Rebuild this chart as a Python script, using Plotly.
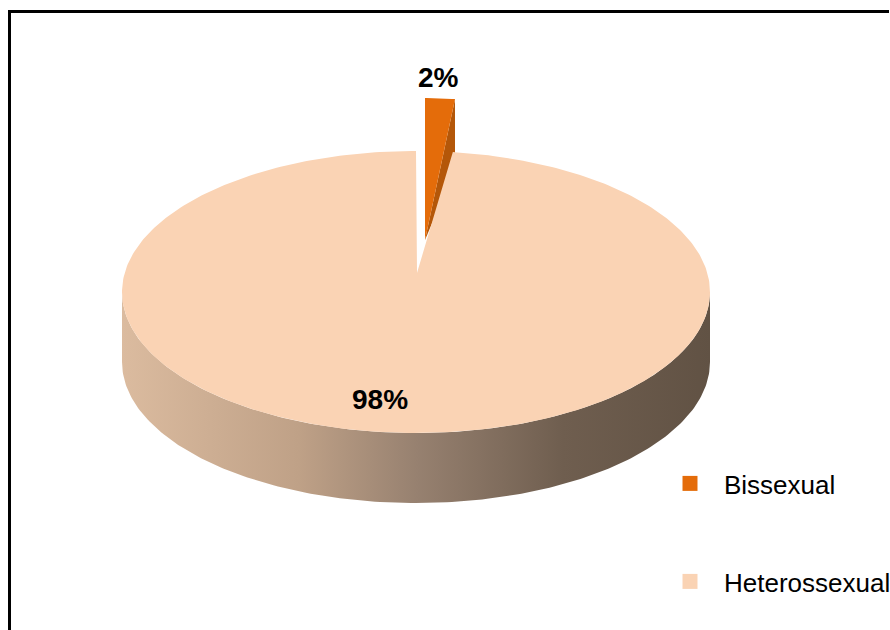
import numpy as np
import plotly.graph_objects as go

# Orientação sexual dos participantes (%)
labels = ["Bissexual", "Heterossexual"]
values = [2, 98]
top_colors = ["#E46C0A", "#FAD3B4"]
cut_color = "#B45709"
wall_colors = [[0.0, "#DBBB9F"], [0.3, "#BFA187"], [0.5, "#978170"],
               [0.75, "#6F5E4F"], [1.0, "#615244"]]

# Pixel-based frame for the pseudo-3D pie
W, H = 890, 630
cx, cy, rx, ry = 416, 292, 294, 141   # top ellipse
apex = np.array([417.0, 273.0])        # apparent pie centre (perspective)
depth = 70                             # thickness of the pie wall
arc_shift = np.array([9.0, -53.0])     # pulled-out slice: rim offset
apex_shift = np.array([8.0, -33.0])    # pulled-out slice: centre offset
far_scale = 0.815                      # horizontal foreshortening of the pulled slice


def rim(theta_deg, dy=0.0, sx=1.0):
    t = np.radians(theta_deg)
    return np.column_stack([cx + sx * rx * np.sin(t), cy - ry * np.cos(t) + dy])


# slice angles (clockwise from 12 o'clock) derived from the values
total = sum(values)
bounds = np.concatenate([[0], np.cumsum(values) / total * 360.0])

fig = go.Figure()
noline = dict(width=0)

# --- pulled-out slice (first value) ---
a0, a1 = bounds[0], bounds[1]
ap_o = apex + apex_shift
arc_o = rim(np.linspace(a0, a1, 20), sx=far_scale) + arc_shift
end_o = arc_o[-1]
# radial cut face, seen below its right edge
cut = np.array([ap_o, end_o, end_o + [0, depth], ap_o])
fig.add_trace(go.Scatter(x=cut[:, 0], y=cut[:, 1], fill="toself", mode="lines",
                         line=noline, fillcolor=cut_color, hoverinfo="skip",
                         showlegend=False))
poly_o = np.vstack([ap_o, arc_o, ap_o])
fig.add_trace(go.Scatter(x=poly_o[:, 0], y=poly_o[:, 1], fill="toself", mode="lines",
                         line=noline, fillcolor=top_colors[0], hoverinfo="skip",
                         showlegend=False))

# --- main slice: outer wall (front half) with horizontal shading ---
front = np.linspace(90, 270, 181)
wall = np.vstack([rim(front), rim(front[::-1], depth)])
wall = np.vstack([wall, wall[:1]])
fig.add_trace(go.Scatter(x=wall[:, 0], y=wall[:, 1], fill="toself", mode="lines",
                         line=noline,
                         fillgradient=dict(type="horizontal", colorscale=wall_colors),
                         hoverinfo="skip", showlegend=False))

# --- main slice: top face ---
b0, b1 = bounds[1], bounds[2]
arc_m = rim(np.linspace(b0, b1, 400))
poly_m = np.vstack([apex, arc_m, apex])
fig.add_trace(go.Scatter(x=poly_m[:, 0], y=poly_m[:, 1], fill="toself", mode="lines",
                         line=noline, fillcolor=top_colors[1], hoverinfo="skip",
                         showlegend=False))

# --- legend entries (one legend box per category) ---
for i, (name, col) in enumerate(zip(labels, top_colors)):
    fig.add_trace(go.Scatter(x=[None], y=[None], mode="markers", name=name,
                             marker=dict(symbol="square", size=15, color=col),
                             legend="legend" if i == 0 else f"legend{i + 1}"))

# --- percentage labels ---
label_pos = [(438, 77), (380, 399)]
for v, (lx, ly) in zip(values, label_pos):
    fig.add_annotation(x=lx, y=ly, text=f"<b>{v}%</b>", showarrow=False,
                       font=dict(family="Liberation Sans, Arial", size=28, color="#000000"),
                       xanchor="center", yanchor="middle")

# chart frame: only the top and left borders fall inside the view
frame = dict(color="#000000", width=3)
fig.add_shape(type="line", x0=8, y0=11.5, x1=889, y1=11.5, line=frame, layer="above")
fig.add_shape(type="line", x0=9.5, y0=10, x1=9.5, y1=H, line=frame, layer="above")

legend_style = dict(font=dict(family="Liberation Sans, Arial", size=26, color="#000000"),
                    bgcolor="rgba(0,0,0,0)", xanchor="left", yanchor="middle",
                    itemsizing="trace", itemwidth=58)
fig.update_layout(
    width=W, height=H,
    margin=dict(l=0, r=0, t=0, b=0, autoexpand=False),
    paper_bgcolor="#FFFFFF", plot_bgcolor="#FFFFFF",
    xaxis=dict(range=[0, W], visible=False, fixedrange=True),
    yaxis=dict(range=[H, 0], visible=False, fixedrange=True),
    legend=dict(x=656 / W, y=1 - 483.5 / H, **legend_style),
    legend2=dict(x=656 / W, y=1 - 581.5 / H, **legend_style),
    showlegend=True,
)

fig.write_html("out.html")
